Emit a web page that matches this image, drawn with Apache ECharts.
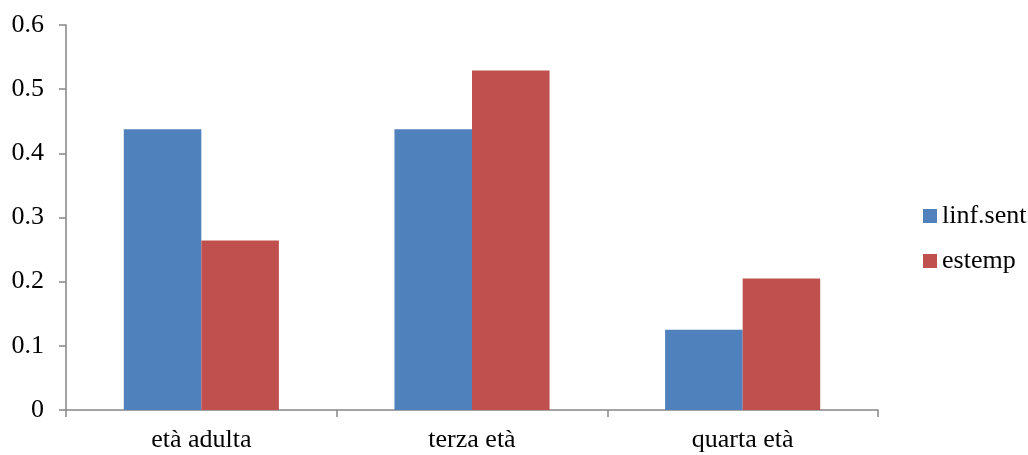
<!DOCTYPE html>
<html>
<head>
<meta charset="utf-8">
<script src="https://cdn.jsdelivr.net/npm/echarts@6/dist/echarts.min.js"></script>
<style>
  html, body { margin: 0; padding: 0; background: #fff; }
  #chart { width: 1028px; height: 455px; }
</style>
</head>
<body>
<div id="chart"></div>
<script>
// Age groups on the x axis
const categories = ['età adulta', 'terza età', 'quarta età'];
// Series values
const linfSent = [0.4375, 0.4375, 0.125];
const estemp = [0.264, 0.529, 0.205];
// Y axis range
const yMin = 0;
const yMax = 0.6;
const yStep = 0.1;

const FONT = '"Liberation Serif", "DejaVu Serif", serif';
const AXIS_GRAY = '#868686';

const chart = echarts.init(document.getElementById('chart'), null, { renderer: 'canvas' });

chart.setOption({
  animation: false,
  backgroundColor: '#ffffff',
  textStyle: { fontFamily: FONT },
  grid: { left: 66, right: 150, top: 25, bottom: 45, containLabel: false },
  legend: {
    orient: 'vertical',
    left: 918,
    top: 198,
    itemWidth: 14,
    itemHeight: 14,
    itemGap: 19,
    icon: 'rect',
    textStyle: { fontFamily: FONT, fontSize: 26, color: '#000' },
    data: ['linf.sent', 'estemp']
  },
  xAxis: {
    type: 'category',
    data: categories,
    axisLine: { lineStyle: { color: AXIS_GRAY, width: 1.5 } },
    axisTick: { show: true, alignWithLabel: false, length: 7, lineStyle: { color: AXIS_GRAY, width: 1.5 } },
    axisLabel: { fontFamily: FONT, fontSize: 26, color: '#000', margin: 17 },
    splitLine: { show: false }
  },
  yAxis: {
    type: 'value',
    min: yMin,
    max: yMax,
    interval: yStep,
    axisLine: { show: true, lineStyle: { color: AXIS_GRAY, width: 1.5 } },
    axisTick: { show: true, length: 7, lineStyle: { color: AXIS_GRAY, width: 1.5 } },
    axisLabel: {
      fontFamily: FONT, fontSize: 26, color: '#000', margin: 22,
      formatter: v => (v === 0 ? '0' : String(Math.round(v * 10) / 10))
    },
    splitLine: { show: false }
  },
  series: [
    {
      name: 'linf.sent',
      type: 'bar',
      data: linfSent,
      itemStyle: { color: '#4F81BD' },
      barGap: '0%',
      barCategoryGap: '42.7%'
    },
    {
      name: 'estemp',
      type: 'bar',
      data: estemp,
      itemStyle: { color: '#C0504D' },
      barGap: '0%',
      barCategoryGap: '42.7%'
    }
  ]
});
</script>
</body>
</html>
